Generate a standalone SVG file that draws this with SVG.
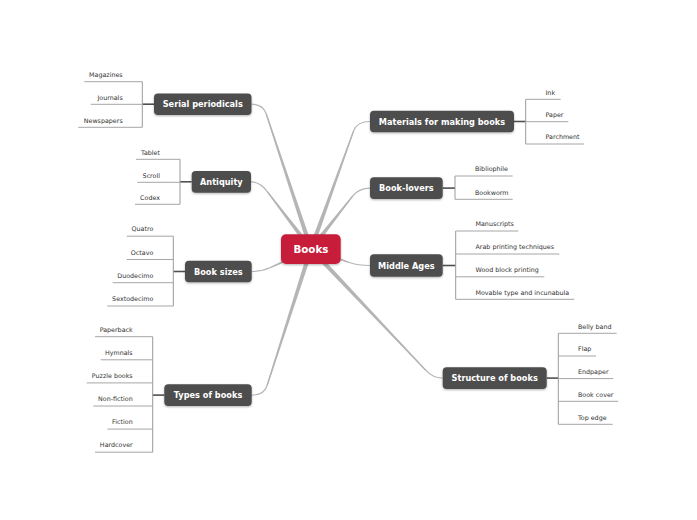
<svg xmlns="http://www.w3.org/2000/svg" width="697" height="520" viewBox="0 0 697 520">
<defs>
<filter id="sh" x="-10%" y="-20%" width="120%" height="160%">
<feDropShadow dx="0" dy="1" stdDeviation="0.8" flood-color="#000" flood-opacity="0.3"/>
</filter>
</defs>
<style>
.main rect{fill:#4e4e4e;filter:url(#sh)}
.main text{fill:#fff;font-family:"DejaVu Sans",sans-serif;font-weight:bold;font-size:8.2px;text-anchor:middle}
.sub text{fill:#333;font-family:"DejaVu Sans",sans-serif;font-size:6.35px}
.sub line{stroke:#a6a6a6;stroke-width:1}
.l text{text-anchor:end}
.r text{text-anchor:start}
.cc{fill:none;stroke:#b5b5b5;stroke-width:1.2}
.ct{fill:#b5b5b5}
.br{stroke:#999;stroke-width:1;fill:none}
.nb{stroke:#505050;stroke-width:1.6}
</style>
<rect width="697" height="520" fill="#fff"/>
<g id="connectors">
<!-- center to main -->
<path class="ct" d="M313.19,248.28 L266.67,113.31 L265.53,113.69 L308.82,249.72 Z"/>
<path class="cc" d="M311,249 L266.1,113.5 Q263,104.2 251.5,104.2"/>
<path class="ct" d="M312.83,247.61 L267.78,191.24 L266.82,191.96 L309.17,250.39 Z"/>
<path class="cc" d="M311,249 L267.3,191.6 Q260,181.8 251,181.8"/>
<path class="ct" d="M311.96,251.09 L271.35,267.85 L270.85,266.75 L310.04,246.91 Z"/>
<path class="cc" d="M311,249 L271.1,267.3 Q262,271.5 251.7,271.5"/>
<path class="ct" d="M313.19,249.7 L267.67,385.68 L266.53,385.32 L308.81,248.3 Z"/>
<path class="cc" d="M311,249 L267.1,385.5 Q264,395.1 251.7,395.1"/>
<path class="ct" d="M313.16,249.78 L354.16,131.1 L353.04,130.7 L308.84,248.22 Z"/>
<path class="cc" d="M311,249 L353.6,130.9 Q357,121.5 370,121.5"/>
<path class="ct" d="M312.81,250.42 L353.27,196.27 L352.33,195.53 L309.19,247.58 Z"/>
<path class="cc" d="M311,249 L352.8,195.9 Q359,188.1 370,188.1"/>
<path class="ct" d="M310.24,251.17 L348.4,262.77 L348.8,261.63 L311.76,246.83 Z"/>
<path class="cc" d="M311,249 L348.6,262.2 Q358,265.5 370,265.5"/>
<path class="ct" d="M309.33,250.58 L425.66,371.11 L426.54,370.29 L312.67,247.42 Z"/>
<path class="cc" d="M311,249 L426.1,370.7 Q433,378.1 442.7,378.1"/>
<!-- node to bracket -->
<line class="nb" x1="154" y1="104.2" x2="142.3" y2="104.2"/>
<line class="nb" x1="191.7" y1="181.8" x2="180" y2="181.8"/>
<line class="nb" x1="185" y1="271.5" x2="173.3" y2="271.5"/>
<line class="nb" x1="164.3" y1="395.1" x2="152.7" y2="395.1"/>
<line class="nb" x1="514" y1="121.5" x2="525.7" y2="121.5"/>
<line class="nb" x1="442.7" y1="188.1" x2="455" y2="188.1"/>
<line class="nb" x1="442.7" y1="265.5" x2="455.7" y2="265.5"/>
<line class="nb" x1="546.7" y1="378.1" x2="558.3" y2="378.1"/>
<!-- brackets -->
<line class="br" x1="142.3" y1="81.7" x2="142.3" y2="127.3"/>
<line class="br" x1="180" y1="159.3" x2="180" y2="204.3"/>
<line class="br" x1="173.3" y1="236.2" x2="173.3" y2="306"/>
<line class="br" x1="152.7" y1="336.7" x2="152.7" y2="452.2"/>
<line class="br" x1="525.7" y1="99.3" x2="525.7" y2="144"/>
<line class="br" x1="455" y1="176" x2="455" y2="199.3"/>
<line class="br" x1="455.7" y1="231" x2="455.7" y2="299.3"/>
<line class="br" x1="558.3" y1="333.3" x2="558.3" y2="424.3"/>
</g>
<g id="books">
<rect x="281" y="234.3" width="59.7" height="29.7" rx="5" fill="#c81f3b" filter="url(#sh)"/>
<text x="310.9" y="253" fill="#fff" font-family="DejaVu Sans, sans-serif" font-weight="bold" font-size="10.3" text-anchor="middle">Books</text>
</g>
<g id="serial-periodicals" class="main"><rect x="154" y="93.5" width="97.5" height="21.5" rx="4"/><text x="202.75" y="107.2">Serial periodicals</text></g>
<g id="antiquity" class="main"><rect x="191.7" y="171" width="59.3" height="21.7" rx="4"/><text x="221.35" y="184.8">Antiquity</text></g>
<g id="book-sizes" class="main"><rect x="185" y="260.7" width="66.7" height="21.6" rx="4"/><text x="218.35" y="274.5">Book sizes</text></g>
<g id="types-of-books" class="main"><rect x="164.3" y="384.3" width="87.4" height="21.7" rx="4"/><text x="208" y="398.1">Types of books</text></g>
<g id="materials" class="main"><rect x="370" y="110.7" width="144" height="21.6" rx="4"/><text x="442" y="124.5">Materials for making books</text></g>
<g id="book-lovers" class="main"><rect x="370" y="177.3" width="72.7" height="21.7" rx="4"/><text x="406.35" y="191.1">Book-lovers</text></g>
<g id="middle-ages" class="main"><rect x="370" y="254.3" width="72.7" height="22.4" rx="4"/><text x="406.35" y="268.5">Middle Ages</text></g>
<g id="structure-of-books" class="main"><rect x="442.7" y="367.3" width="104" height="21.7" rx="4"/><text x="494.7" y="381.1">Structure of books</text></g>

<g class="sub l">
<g id="magazines"><line x1="84.3" y1="81.7" x2="142.3" y2="81.7"/><text x="122.7" y="76.9">Magazines</text></g>
<g id="journals"><line x1="90.7" y1="104.3" x2="142.3" y2="104.3"/><text x="122.7" y="99.5">Journals</text></g>
<g id="newspapers"><line x1="78.3" y1="127.3" x2="142.3" y2="127.3"/><text x="122.7" y="122.5">Newspapers</text></g>
<g id="tablet"><line x1="136" y1="159.3" x2="180" y2="159.3"/><text x="160" y="154.5">Tablet</text></g>
<g id="scroll"><line x1="137.3" y1="182.3" x2="180" y2="182.3"/><text x="160" y="177.5">Scroll</text></g>
<g id="codex"><line x1="135" y1="204.3" x2="180" y2="204.3"/><text x="160" y="199.5">Codex</text></g>
<g id="quatro"><line x1="126.7" y1="236.2" x2="173.3" y2="236.2"/><text x="153.3" y="231.4">Quatro</text></g>
<g id="octavo"><line x1="126.7" y1="259.5" x2="173.3" y2="259.5"/><text x="153.3" y="254.7">Octavo</text></g>
<g id="duodecimo"><line x1="112.7" y1="282.7" x2="173.3" y2="282.7"/><text x="153.3" y="277.9">Duodecimo</text></g>
<g id="sextodecimo"><line x1="107.3" y1="306" x2="173.3" y2="306"/><text x="153.3" y="301.2">Sextodecimo</text></g>
<g id="paperback"><line x1="95" y1="336.7" x2="152.7" y2="336.7"/><text x="132.7" y="331.9">Paperback</text></g>
<g id="hymnals"><line x1="100.7" y1="359.8" x2="152.7" y2="359.8"/><text x="132.7" y="355">Hymnals</text></g>
<g id="puzzle-books"><line x1="86.7" y1="382.9" x2="152.7" y2="382.9"/><text x="132.7" y="378.1">Puzzle books</text></g>
<g id="non-fiction"><line x1="93.3" y1="406" x2="152.7" y2="406"/><text x="132.7" y="401.2">Non-fiction</text></g>
<g id="fiction"><line x1="107.3" y1="429.1" x2="152.7" y2="429.1"/><text x="132.7" y="424.3">Fiction</text></g>
<g id="hardcover"><line x1="95" y1="452.2" x2="152.7" y2="452.2"/><text x="132.7" y="447.4">Hardcover</text></g>
</g>

<g class="sub r">
<g id="ink"><line x1="525.7" y1="99.3" x2="560.7" y2="99.3"/><text x="545.5" y="94.5">Ink</text></g>
<g id="paper"><line x1="525.7" y1="121.7" x2="568.3" y2="121.7"/><text x="545.5" y="116.9">Paper</text></g>
<g id="parchment"><line x1="525.7" y1="144" x2="584" y2="144"/><text x="545.5" y="139.2">Parchment</text></g>
<g id="bibliophile"><line x1="455" y1="176" x2="512.7" y2="176"/><text x="475" y="171.2">Bibliophile</text></g>
<g id="bookworm"><line x1="455" y1="199.3" x2="512.7" y2="199.3"/><text x="475" y="194.5">Bookworm</text></g>
<g id="manuscripts"><line x1="455.7" y1="231" x2="518.3" y2="231"/><text x="475.5" y="226.2">Manuscripts</text></g>
<g id="arab-printing"><line x1="455.7" y1="254" x2="559.3" y2="254"/><text x="475.5" y="249.2">Arab printing techniques</text></g>
<g id="wood-block"><line x1="455.7" y1="276.8" x2="544.3" y2="276.8"/><text x="475.5" y="272">Wood block printing</text></g>
<g id="movable-type"><line x1="455.7" y1="299.3" x2="574.3" y2="299.3"/><text x="475.5" y="294.5">Movable type and incunabula</text></g>
<g id="belly-band"><line x1="558.3" y1="333.3" x2="616.7" y2="333.3"/><text x="578" y="328.5">Belly band</text></g>
<g id="flap"><line x1="558.3" y1="356" x2="596" y2="356"/><text x="578" y="351.2">Flap</text></g>
<g id="endpaper"><line x1="558.3" y1="378.6" x2="613.3" y2="378.6"/><text x="578" y="373.8">Endpaper</text></g>
<g id="book-cover"><line x1="558.3" y1="401.3" x2="618.3" y2="401.3"/><text x="578" y="396.5">Book cover</text></g>
<g id="top-edge"><line x1="558.3" y1="424.3" x2="612.7" y2="424.3"/><text x="578" y="419.5">Top edge</text></g>
</g>
</svg>
